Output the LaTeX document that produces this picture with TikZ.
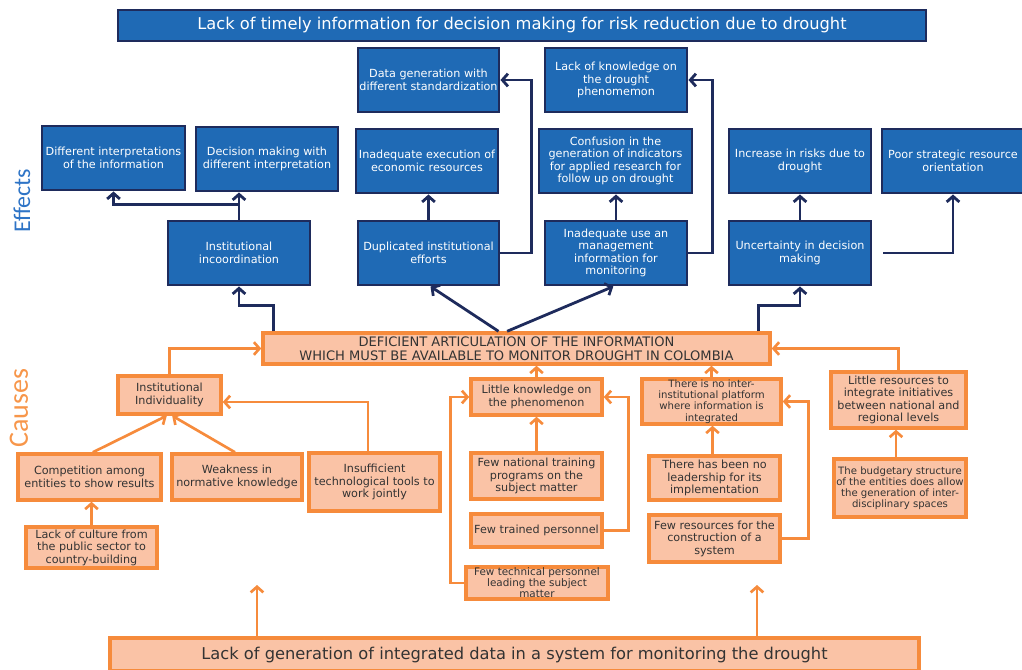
\documentclass[tikz,border=0pt]{standalone}
\usepackage{fontspec}
\setmainfont{DejaVu Sans}
\newfontfamily\labelfont{Carlito}
\usetikzlibrary{arrows.meta}

\definecolor{navy}{HTML}{1E2B5C}
\definecolor{effblue}{HTML}{1F6AB5}
\definecolor{orline}{HTML}{F68B3C}
\definecolor{orfill}{HTML}{FAC3A6}
\definecolor{txtgray}{HTML}{333333}
\definecolor{efflabel}{HTML}{2E74C6}
\definecolor{caulabel}{HTML}{F7964A}

\newcommand{\boxfont}{\fontsize{8.4}{9.3}\selectfont}
\newcommand{\smallboxfont}{\fontsize{7.6}{8.4}\selectfont}

\tikzset{
  eff/.style={draw=navy, fill=effblue, line width=2.2pt, text=white,
    font=\boxfont, align=center, inner sep=0.5pt},
  cau/.style={draw=orline, fill=orfill, line width=2.6pt, text=txtgray,
    font=\boxfont, align=center, inner sep=0.5pt},
  sz/.style 2 args={minimum width=#1*0.75pt, minimum height=#2*0.75pt},
  navyarr/.style={draw=navy, line width=2.1pt,
    -{Straight Barb[length=4.2pt,width=9.5pt]}},
  orarr/.style={draw=orline, line width=2pt,
    -{Straight Barb[length=4.2pt,width=9.5pt]}}
}

\begin{document}
\begin{tikzpicture}[x=0.75pt,y=-0.75pt]
\useasboundingbox (0,0) rectangle (1022,669);

% side labels
\node[rotate=90, text=efflabel, font=\labelfont\fontsize{18}{20}\selectfont] (efflbl) at (22,201) {Effects};
\node[rotate=90, text=caulabel, font=\labelfont\fontsize{21}{23}\selectfont] (caulbl) at (19,408) {Causes};

% effects
\node[eff, sz={808}{31}, font=\fontsize{12.2}{14}\selectfont] (title) at (522,25.5)
  {Lack of timely information for decision making for risk reduction due to drought};
\node[eff, sz={141}{64}] (datagen) at (428.5,80) {Data generation with\\different standardization};
\node[eff, sz={142}{64}] (lackknow) at (616,80) {Lack of knowledge on\\the drought\\phenomemon};
\node[eff, sz={143}{64}] (diffint) at (113.5,158) {Different interpretations\\of the information};
\node[eff, sz={142}{64}] (decmak) at (267,159) {Decision making with\\different interpretation};
\node[eff, sz={142}{64}] (inexec) at (427,161) {Inadequate execution of\\economic resources};
\node[eff, sz={153}{64}] (confus) at (615.5,161) {Confusion in the\\generation of indicators\\for applied research for\\follow up on drought};
\node[eff, sz={142}{64}] (incrisk) at (800,161) {Increase in risks due to\\drought};
\node[eff, sz={142}{64}] (poorstr) at (953,161) {Poor strategic resource\\orientation};
\node[eff, sz={142}{64}] (instinc) at (239,253) {Institutional\\incoordination};
\node[eff, sz={141}{64}] (duplic) at (428.5,253) {Duplicated institutional\\efforts};
\node[eff, sz={142}{64}] (inuse) at (616,253) {Inadequate use an\\management\\information for\\monitoring};
\node[eff, sz={142}{64}] (uncert) at (800,253) {Uncertainty in decision\\making};

\draw[navyarr] (instinc.north) -- (instinc.north |- decmak.south);
\draw[navyarr] (instinc.north) -- ++(0,-15) -| (diffint.south);
\draw[navyarr] (duplic.north) -- (duplic.north |- inexec.south);
\draw[navyarr] (duplic.east) -- ++(31,0) |- (datagen.east);
\draw[navyarr] (inuse.north) -- (inuse.north |- confus.south);
\draw[navyarr] (inuse.east) -- ++(24,0) |- (lackknow.east);
\draw[navyarr] (uncert.north) -- (incrisk.south);
\draw[navyarr, shorten <=8pt] (uncert.east) -| (poorstr.south);

% causes
\node[cau, sz={507}{31}, font=\fontsize{9.8}{10.8}\selectfont] (defic) at (516.5,348.5)
  {DEFICIENT ARTICULATION OF THE INFORMATION\\WHICH MUST BE AVAILABLE TO MONITOR DROUGHT IN COLOMBIA};
\node[cau, sz={103}{38}] (instind) at (169.5,395) {Institutional\\Individuality};
\node[cau, sz={143}{46}] (compet) at (89.5,477) {Competition among\\entities to show results};
\node[cau, sz={130}{46}] (weak) at (237,477) {Weakness in\\normative knowledge};
\node[cau, sz={131}{58}] (insuf) at (374.5,482) {Insufficient\\technological tools to\\work jointly};
\node[cau, sz={131}{41}] (culture) at (91.5,547.5) {Lack of culture from\\the public sector to\\country-building};
\node[cau, sz={131}{36}] (littlek) at (536.5,397) {Little knowledge on\\the phenomenon};
\node[cau, sz={131}{46}] (fewnat) at (536.5,476) {Few national training\\programs on the\\subject matter};
\node[cau, sz={131}{33}] (fewtrain) at (536.5,530.5) {Few trained personnel};
\node[cau, sz={142}{32}, font=\fontsize{7.8}{8.2}\selectfont] (fewtech) at (537,583) {Few technical personnel\\leading the subject\\matter};
\node[cau, sz={139}{45}, font=\smallboxfont] (noplat) at (711.5,401.5) {There is no inter-\\institutional platform\\where information is\\integrated};
\node[cau, sz={131}{44}] (noleader) at (714.5,478) {There has been no\\leadership for its\\implementation};
\node[cau, sz={131}{47}] (fewres) at (714.5,538.5) {Few resources for the\\construction of a\\system};
\node[cau, sz={135}{56}] (littleres) at (898.5,400) {Little resources to\\integrate initiatives\\between national and\\regional levels};
\node[cau, sz={132}{58}, font=\smallboxfont] (budget) at (900,488) {The budgetary structure\\of the entities does allow\\the generation of inter-\\disciplinary spaces};
\node[cau, sz={809}{33}, font=\fontsize{12.2}{14}\selectfont] (bottom) at (514.5,654.5)
  {Lack of generation of integrated data in a system for monitoring the drought};

\draw[navyarr] ([xshift=9pt]defic.north west) -- ++(0,-26) -| (instinc.south);
\draw[navyarr] ([xshift=-13.5pt]defic.north) -- ([xshift=1.5pt]duplic.south);
\draw[navyarr] ([xshift=-7pt]defic.north) -- ([xshift=-2pt]inuse.south);
\draw[navyarr] ([xshift=-9.75pt]defic.north east) -- ++(0,-26) -| (uncert.south);

\draw[orarr] (instind.north) |- (defic.west);
\draw[orarr] ([xshift=2.5pt]compet.north) -- ([xshift=-2pt]instind.south);
\draw[orarr] ([xshift=-1.5pt]weak.north) -- ([xshift=2pt]instind.south);
\draw[orarr] ([xshift=-5pt]insuf.north) |- ([yshift=-5.25pt]instind.east);
\draw[orarr] (culture.north) -- (culture.north |- compet.south);
\draw[orarr] (littlek.north) -- (littlek.north |- defic.south);
\draw[orarr] (fewnat.north) -- (littlek.south);
\draw[orarr] (fewtrain.east) -- ++(25,0) |- (littlek.east);
\draw[orarr] (fewtech.west) -- ++(-14,0) |- (littlek.west);
\draw[orarr] (noplat.north) -- (noplat.north |- defic.south);
\draw[orarr] ([xshift=-1.5pt]noleader.north) -- ([xshift=-1.5pt]noleader.north |- noplat.south);
\draw[orarr] (fewres.east) -- ++(27,0) |- (noplat.east);
\draw[orarr] (littleres.north) |- (defic.east);
\draw[orarr] ([xshift=-3pt]budget.north) -- ([xshift=-3pt]budget.north |- littleres.south);

\coordinate (up1) at (257,585);
\coordinate (up2) at (757,585);
\draw[orarr] (bottom.north -| up1) -- (up1);
\draw[orarr] (bottom.north -| up2) -- (up2);
\end{tikzpicture}
\end{document}
